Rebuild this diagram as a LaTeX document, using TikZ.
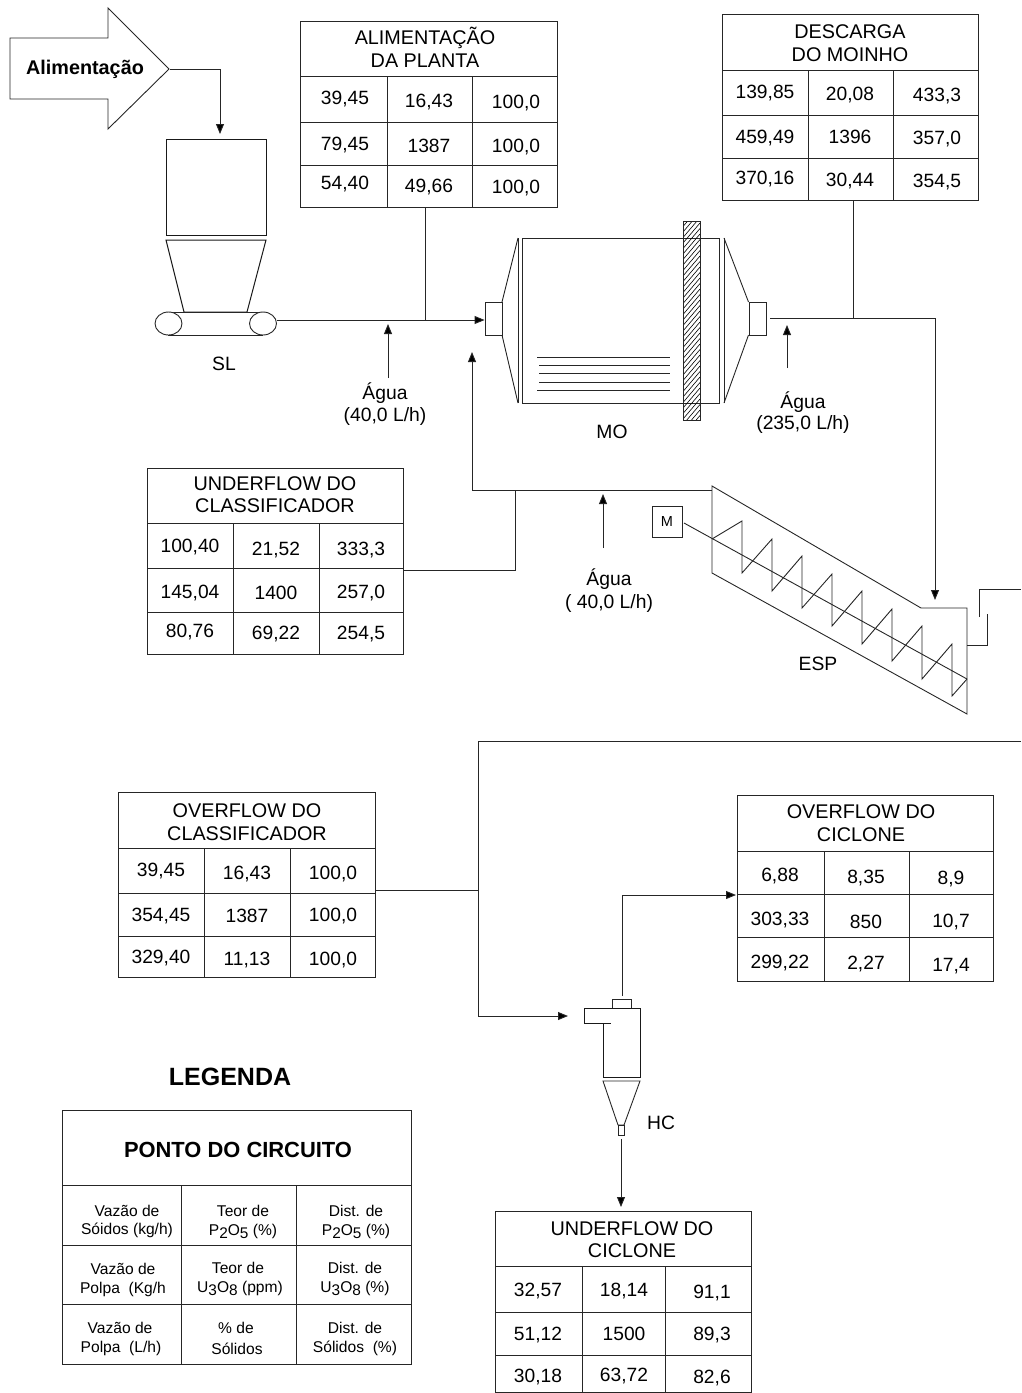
\documentclass[tikz,border=0pt]{standalone}
\usepackage{fontspec}
\setmainfont{Liberation Sans}
\usetikzlibrary{arrows.meta}
\newcommand{\subn}[1]{\raisebox{-3.4pt}{\fontsize{15.4}{15}\selectfont #1}}
\tikzset{
  thinline/.style={line width=0.9pt, draw=black!85},
  flow/.style={line width=0.9pt, draw=black!85, -{Triangle[length=10pt,width=8pt,fill=black]}},
  pipe/.style={line width=0.9pt, draw=black!85},
  eq/.style={line width=1pt, draw=black!90},
  val/.style={font=\fontsize{19.2}{20}\selectfont, inner sep=0pt, yshift=-1pt},
  tt/.style={font=\fontsize{19.8}{20}\selectfont, inner sep=0pt, yshift=-1pt},
  leg/.style={font=\fontsize{15.6}{16}\selectfont, inner sep=0pt, yshift=-0.7pt},
  lab/.style={font=\fontsize{19.3}{20}\selectfont, inner sep=0pt, yshift=-1pt},
}
\begin{document}
\begin{tikzpicture}[x=1pt,y=-1pt]
\useasboundingbox (0,0) rectangle (1021,1393);

% ---------- feed arrow and belt feeder
\draw[pipe] (10,38) -- (108,38) -- (108,8) -- (169,69) -- (108,129) -- (108,99) -- (10,99) -- cycle;
\node[font=\bfseries\fontsize{19.8}{20}\selectfont, inner sep=0pt] (feedtxt) at (85,69.5) {Alimentação};
\coordinate (feedtip) at (170,69);
\node[eq, draw, minimum width=100pt, minimum height=96pt, inner sep=0pt] (hopper) at (216,187) {};
\draw[eq] (166,240) -- (266,240) -- (247,312) -- (184,312) -- cycle;
\draw[thinline] (168,312) -- (263,312) (168,335) -- (263,335);
\draw[thinline,fill=white] (168.5,323.5) ellipse (13.5 and 11.5);
\draw[thinline,fill=white] (263,323.5) ellipse (13.5 and 11.5);
\coordinate (beltout) at (277,320);
\node[lab] (sl) at (224,363) {SL};
\coordinate (hoppertop) at (220,134);
\draw[flow] (feedtip) -| (hoppertop);

% ---------- mill
\node[thinline, draw, minimum width=197pt, minimum height=165pt, inner sep=0pt] (mill) at (620.5,320.5) {};
\draw[thinline] (518,238) -- (518,403) (724,238) -- (724,403);
\node[thinline, draw, minimum width=17pt, minimum height=33pt, inner sep=0pt] (millin) at (493.5,318.5) {};
\node[thinline, draw, minimum width=17pt, minimum height=33pt, inner sep=0pt] (millout) at (757.5,318.5) {};
\draw[thinline] (518,238) -- (502,302) (518,403) -- (502,335);
\draw[thinline] (724,238) -- (748.5,302) (724,403) -- (748.5,335);
\draw[thinline] (537,357) -- (670,357) (539,365) -- (670,365) (539,373) -- (670,373) (539,382) -- (670,382) (537,390) -- (670,390);
\begin{scope}
  \clip (683,221) rectangle (700,420);
  \foreach \yy in {221,226.5,...,660} { \draw[line width=0.6pt] (683,\yy) -- (700,\yy-20); }
\end{scope}
\draw[thinline] (683,221) rectangle (700,420);
\node[lab] (mo) at (612,431) {MO};

% ---------- screw classifier
\draw[thinline] (712,486) -- (921,608) -- (967,608) -- (967,714) -- (712,573) -- cycle;
\node[thinline, draw, minimum width=30pt, minimum height=31pt, inner sep=0pt, font=\fontsize{14.5}{15}\selectfont] (motor) at (667,521.5) {M};
\coordinate (shaftend) at (967,679);
\coordinate (shaftstart) at (684,523);
\draw[thinline] (shaftstart) -- (shaftend);
\draw[thinline] (712,539) -- (742,521) -- (742,573) -- (772,539) -- (772,591) -- (802,556) -- (802,608) -- (832,574) -- (832,626) -- (862,591) -- (862,644) -- (892,609) -- (892,661) -- (922,626) -- (922,679) -- (952,644) -- (952,696) -- (967,679);
\draw[thinline] (967,645) -- (987,645) -- (987,614);
\draw[thinline] (979,617) -- (979,589) -- (1021,589);
\node[lab] (esp) at (818,663) {ESP};

% ---------- hydrocyclone
\draw[eq] (603,1023) -- (603,1077) -- (640,1077) -- (640,1008) -- (584,1008) -- (584,1023) -- (611,1023);
\draw[thinline] (612,1008) -- (612,999) -- (631,999) -- (631,1008);
\draw[thinline] (603,1081) -- (640,1081) -- (624,1125) -- (618,1125) -- cycle;
\node[thinline, draw, minimum width=6pt, minimum height=10pt, inner sep=0pt] (apex) at (621,1130) {};
\node[lab] (hc) at (661,1122) {HC};

% ---------- flow lines
\coordinate (jA) at (425,320);
\coordinate (alimout) at (425,207);
\coordinate (descout) at (853,200);
\coordinate (jD) at (853,318);
\coordinate (millexit) at (770,318);
\coordinate (espin) at (935,600);
\draw[flow] (beltout) -- (millin.west |- beltout);
\draw[pipe] (alimout) -- (jA);
\draw[pipe] (descout) -- (jD);
\draw[flow] (millexit) -| (espin);
\coordinate (wa1a) at (388,378); \coordinate (wa1b) at (388,324);
\draw[flow] (wa1a) -- (wa1b);
\coordinate (wa2a) at (787,368); \coordinate (wa2b) at (787,325);
\draw[flow] (wa2a) -- (wa2b);
\coordinate (wa3a) at (603,548); \coordinate (wa3b) at (603,494);
\draw[flow] (wa3a) -- (wa3b);
\coordinate (esptop) at (712,490);
\coordinate (millrec) at (472,352);
\draw[flow] (esptop) -| (millrec);
\coordinate (ucout) at (403,570); \coordinate (jU) at (515,490);
\draw[pipe] (ucout) -| (jU);
\coordinate (ovstart) at (1021,741);
\coordinate (cycin) at (568,1016);
\draw[flow] (ovstart) -- (478,741) |- (cycin);
\coordinate (ocout) at (375,890); \coordinate (jO) at (478,890);
\draw[pipe] (ocout) -- (jO);
\coordinate (vortex) at (622,996); \coordinate (ocin) at (736,895);
\draw[flow] (vortex) |- (ocin);
\coordinate (apexout) at (621,1139); \coordinate (ufin) at (621,1207);
\draw[flow] (apexout) -- (ufin);

% ---------- water labels
\node[lab] (w1a) at (385,392) {Água};
\node[lab] (w1b) at (385,415) {(40,0 L/h)};
\node[lab] (w2a) at (803,401) {Água};
\node[lab] (w2b) at (803,423) {(235,0 L/h)};
\node[lab] (w3a) at (609,578) {Água};
\node[lab] (w3b) at (609,602) {( 40,0 L/h)};

% ---------- table: alimentacao
\draw[thinline] (300,21) rectangle (557,207);
\draw[thinline] (300,76) -- (557,76) (300,122) -- (557,122) (300,165) -- (557,165);
\draw[thinline] (387,76) -- (387,207) (472,76) -- (472,207);
\node[tt] (ta1) at (425,37) {ALIMENTAÇÃO};
\node[tt] (ta2) at (425,60) {DA PLANTA};
\node[val] (a11) at (345,98) {39,45};
\node[val] (a12) at (429,101) {16,43};
\node[val] (a13) at (516,102) {100,0};
\node[val] (a21) at (345,144) {79,45};
\node[val] (a22) at (429,145) {1387};
\node[val] (a23) at (516,146) {100,0};
\node[val] (a31) at (345,183) {54,40};
\node[val] (a32) at (429,186) {49,66};
\node[val] (a33) at (516,187) {100,0};

% ---------- table: descarga
\draw[thinline] (722,14) rectangle (978,200);
\draw[thinline] (722,70) -- (978,70) (722,115) -- (978,115) (722,158) -- (978,158);
\draw[thinline] (808,70) -- (808,200) (893,70) -- (893,200);
\node[tt] (td1) at (850,31) {DESCARGA};
\node[tt] (td2) at (850,54) {DO MOINHO};
\node[val] (d11) at (765,92) {139,85};
\node[val] (d12) at (850,94) {20,08};
\node[val] (d13) at (937,95) {433,3};
\node[val] (d21) at (765,137) {459,49};
\node[val] (d22) at (850,136) {1396};
\node[val] (d23) at (937,138) {357,0};
\node[val] (d31) at (765,178) {370,16};
\node[val] (d32) at (850,180) {30,44};
\node[val] (d33) at (937,181) {354,5};

% ---------- table: underflow classificador
\draw[thinline] (147,468) rectangle (403,654);
\draw[thinline] (147,523) -- (403,523) (147,568) -- (403,568) (147,612) -- (403,612);
\draw[thinline] (233,523) -- (233,654) (319,523) -- (319,654);
\node[tt] (tu1) at (275,483) {UNDERFLOW DO};
\node[tt] (tu2) at (275,505) {CLASSIFICADOR};
\node[val] (u11) at (190,546) {100,40};
\node[val] (u12) at (276,549) {21,52};
\node[val] (u13) at (361,549) {333,3};
\node[val] (u21) at (190,592) {145,04};
\node[val] (u22) at (276,592) {1400};
\node[val] (u23) at (361,592) {257,0};
\node[val] (u31) at (190,631) {80,76};
\node[val] (u32) at (276,633) {69,22};
\node[val] (u33) at (361,633) {254,5};

% ---------- table: overflow classificador
\draw[thinline] (118,792) rectangle (375,977);
\draw[thinline] (118,848) -- (375,848) (118,893) -- (375,893) (118,936) -- (375,936);
\draw[thinline] (204,848) -- (204,977) (290,848) -- (290,977);
\node[tt] (to1) at (247,810) {OVERFLOW DO};
\node[tt] (to2) at (247,833) {CLASSIFICADOR};
\node[val] (o11) at (161,870) {39,45};
\node[val] (o12) at (247,873) {16,43};
\node[val] (o13) at (333,873) {100,0};
\node[val] (o21) at (161,915) {354,45};
\node[val] (o22) at (247,915) {1387};
\node[val] (o23) at (333,915) {100,0};
\node[val] (o31) at (161,957) {329,40};
\node[val] (o32) at (247,959) {11,13};
\node[val] (o33) at (333,959) {100,0};

% ---------- table: overflow ciclone
\draw[thinline] (737,795) rectangle (993,981);
\draw[thinline] (737,851) -- (993,851) (737,894) -- (993,894) (737,937) -- (993,937);
\draw[thinline] (824,851) -- (824,981) (909,851) -- (909,981);
\node[tt] (tc1) at (861,811) {OVERFLOW DO};
\node[tt] (tc2) at (861,834) {CICLONE};
\node[val] (c11) at (780,875) {6,88};
\node[val] (c12) at (866,877) {8,35};
\node[val] (c13) at (951,878) {8,9};
\node[val] (c21) at (780,919) {303,33};
\node[val] (c22) at (866,921) {850};
\node[val] (c23) at (951,921) {10,7};
\node[val] (c31) at (780,962) {299,22};
\node[val] (c32) at (866,963) {2,27};
\node[val] (c33) at (951,965) {17,4};

% ---------- table: underflow ciclone
\draw[thinline] (495,1211) rectangle (751,1392.5);
\draw[thinline] (495,1266) -- (751,1266) (495,1312) -- (751,1312) (495,1355) -- (751,1355);
\draw[thinline] (582,1266) -- (582,1392.5) (665,1266) -- (665,1392.5);
\node[tt] (tf1) at (632,1228) {UNDERFLOW DO};
\node[tt] (tf2) at (632,1250) {CICLONE};
\node[val] (f11) at (538,1290) {32,57};
\node[val] (f12) at (624,1290) {18,14};
\node[val] (f13) at (712,1292) {91,1};
\node[val] (f21) at (538,1334) {51,12};
\node[val] (f22) at (624,1333) {1500};
\node[val] (f23) at (712,1334) {89,3};
\node[val] (f31) at (538,1376) {30,18};
\node[val] (f32) at (624,1375) {63,72};
\node[val] (f33) at (712,1377) {82,6};

% ---------- legend
\node[font=\bfseries\fontsize{25}{26}\selectfont, inner sep=0pt] (legtitle) at (230,1076.5) {LEGENDA};
\draw[thinline] (62,1110) rectangle (411,1364);
\draw[thinline] (62,1185) -- (411,1185) (62,1245) -- (411,1245) (62,1304) -- (411,1304);
\draw[thinline] (181,1185) -- (181,1364) (296,1185) -- (296,1364);
\node[font=\bfseries\fontsize{21.9}{22}\selectfont, inner sep=0pt] (legpt) at (238,1149.5) {PONTO DO CIRCUITO};
\node[leg] (l11a) at (127,1210) {Vazão de};
\node[leg] (l11b) at (127,1230) {Sóidos (kg/h)};
\node[leg] (l12a) at (243,1210) {Teor de};
\node[leg] (l12b) at (243,1231) {P\subn{2}O\subn{5} (\%)};
\node[leg] (l13a) at (356,1210) {Dist. de};
\node[leg] (l13b) at (356,1231) {P\subn{2}O\subn{5} (\%)};
\node[leg] (l21a) at (123,1268) {Vazão de};
\node[leg] (l21b) at (123,1289) {Polpa~ (Kg/h};
\node[leg] (l22a) at (238,1267) {Teor de};
\node[leg] (l22b) at (240,1288) {U\subn{3}O\subn{8} (ppm)};
\node[leg] (l23a) at (355,1267) {Dist. de};
\node[leg] (l23b) at (355,1288) {U\subn{3}O\subn{8} (\%)};
\node[leg] (l31a) at (120,1327) {Vazão de};
\node[leg] (l31b) at (121,1348) {Polpa~ (L/h)};
\node[leg] (l32a) at (236,1327) {\% de};
\node[leg] (l32b) at (237,1348) {Sólidos};
\node[leg] (l33a) at (355,1327) {Dist. de};
\node[leg] (l33b) at (355,1348) {Sólidos~ (\%)};
\end{tikzpicture}
\end{document}
